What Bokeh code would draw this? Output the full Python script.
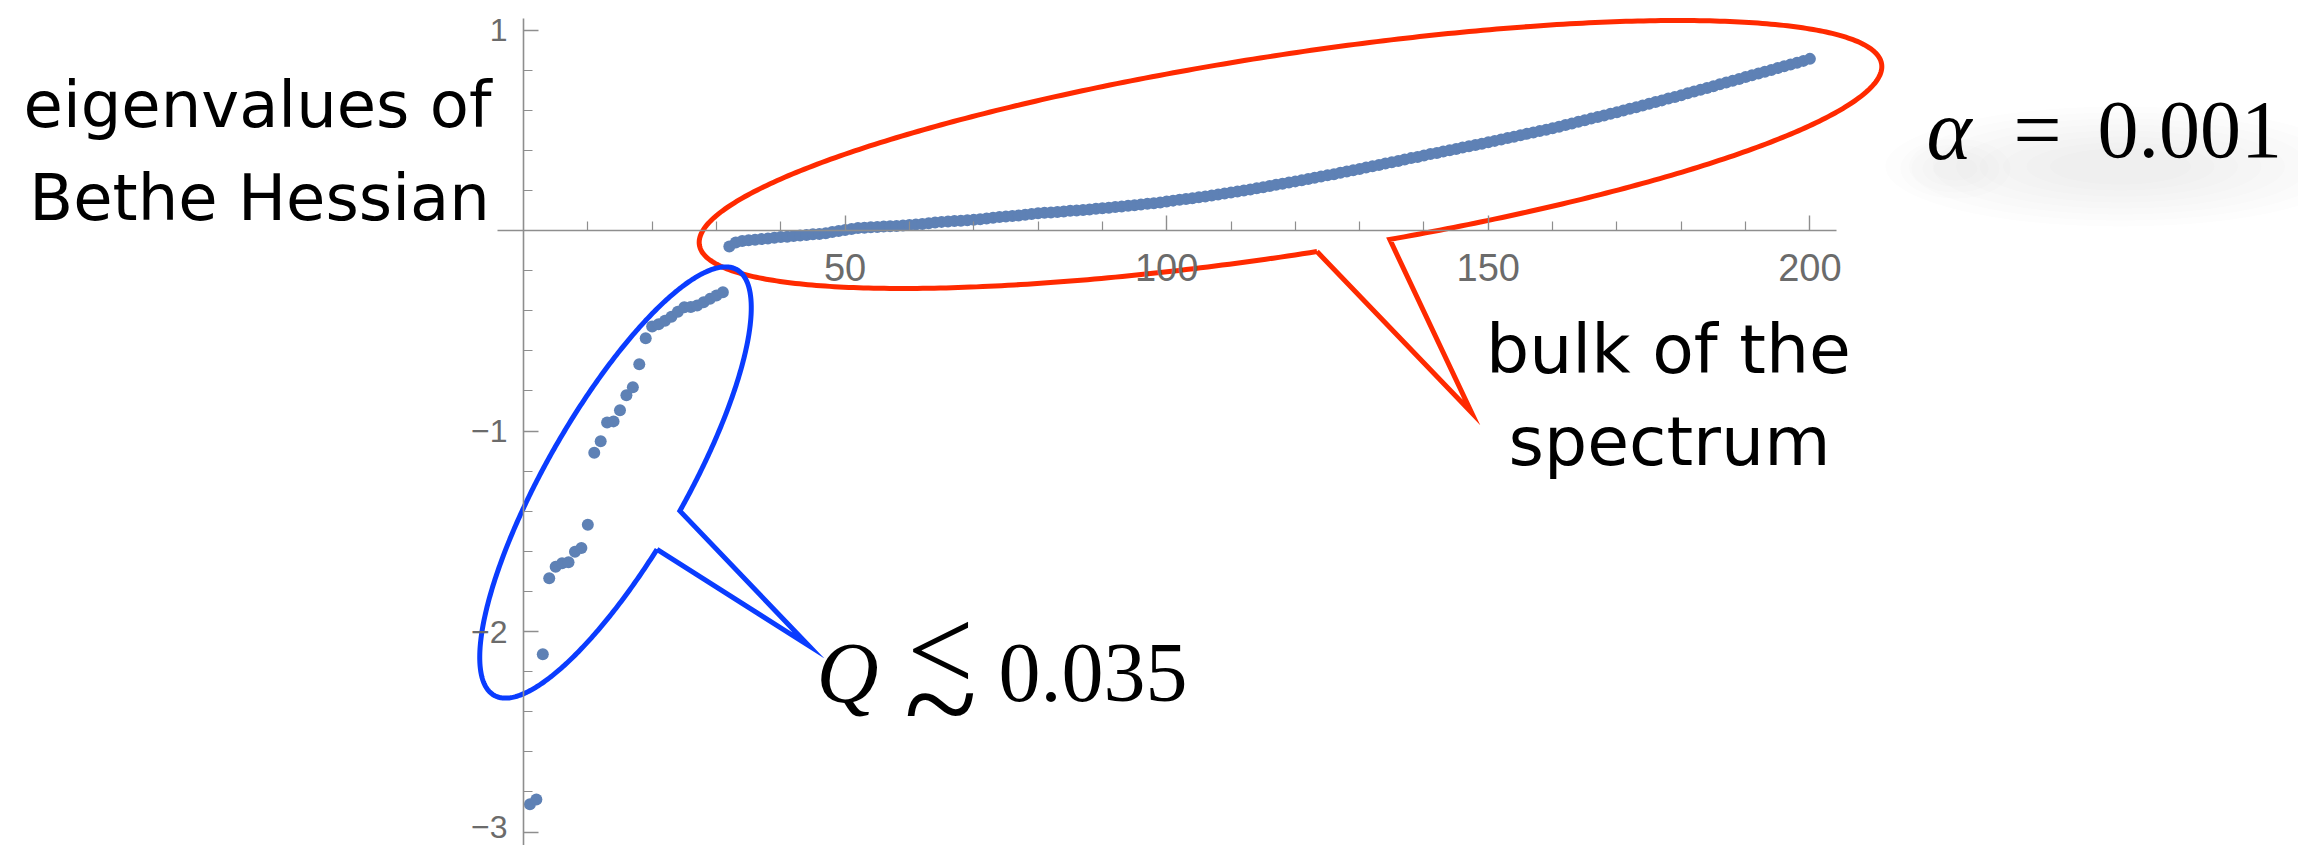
import numpy as np
from bokeh.plotting import figure
from bokeh.models import Range1d, LinearAxis, FixedTicker, CustomJSTickFormatter
from bokeh.core.properties import value
from bokeh.embed import file_html
from bokeh.resources import INLINE

# ---------------- data: sorted eigenvalues of the Bethe Hessian ----------------
INDEX = list(range(1, 201))
EIGENVALUES = [
    # isolated negative eigenvalues (1..31)
    -2.862, -2.838, -2.114, -1.734, -1.677, -1.660, -1.655, -1.602, -1.583, -1.468,
    -1.108, -1.051, -0.958, -0.952, -0.897, -0.822, -0.782, -0.667, -0.537, -0.479,
    -0.467, -0.450, -0.430, -0.405, -0.383, -0.381, -0.374, -0.358, -0.341, -0.324,
    -0.308,
    # bulk (32..200)
    -0.080, -0.060, -0.052, -0.049, -0.046, -0.043, -0.040, -0.036, -0.033,
    -0.031, -0.028, -0.025, -0.022, -0.019, -0.017, -0.014, -0.008, -0.003, 0.003,
    0.008, 0.012, 0.014, 0.016, 0.018, 0.020, 0.021, 0.023, 0.025, 0.028,
    0.030, 0.033, 0.036, 0.040, 0.043, 0.045, 0.047, 0.049, 0.051, 0.053,
    0.056, 0.060, 0.064, 0.067, 0.070, 0.072, 0.075, 0.078, 0.082, 0.086,
    0.088, 0.090, 0.092, 0.095, 0.098, 0.100, 0.102, 0.105, 0.108, 0.111,
    0.114, 0.117, 0.120, 0.123, 0.126, 0.130, 0.133, 0.136, 0.140, 0.145,
    0.149, 0.153, 0.157, 0.161, 0.166, 0.170, 0.175, 0.180, 0.185, 0.190,
    0.195, 0.200, 0.205, 0.211, 0.216, 0.222, 0.228, 0.233, 0.239, 0.245,
    0.251, 0.257, 0.263, 0.269, 0.275, 0.281, 0.288, 0.294, 0.301, 0.307,
    0.314, 0.321, 0.327, 0.334, 0.340, 0.347, 0.354, 0.361, 0.367, 0.374,
    0.381, 0.387, 0.394, 0.400, 0.407, 0.414, 0.420, 0.427, 0.433, 0.440,
    0.447, 0.454, 0.461, 0.468, 0.475, 0.482, 0.489, 0.496, 0.503, 0.510,
    0.518, 0.526, 0.534, 0.542, 0.550, 0.558, 0.566, 0.574, 0.582, 0.590,
    0.598, 0.607, 0.615, 0.624, 0.632, 0.641, 0.649, 0.658, 0.666, 0.675,
    0.684, 0.693, 0.702, 0.711, 0.720, 0.729, 0.738, 0.747, 0.756, 0.765,
    0.774, 0.783, 0.792, 0.801, 0.810, 0.819, 0.828, 0.837, 0.846, 0.856,
]

X_MAJOR = [50, 100, 150, 200]
X_MINOR = [t for t in range(10, 201, 10) if t not in X_MAJOR]
Y_MAJOR = [-3, -2, -1, 1]
Y_MINOR = [round(-3 + 0.2 * k, 1) for k in range(21) if round(-3 + 0.2 * k, 1) not in (-3, -2, -1, 0, 1)]

# ---------------- canvas / frame mapping ----------------
W, H = 2298, 845
X0_PX, X_SCALE = 523.0, 6.432     # canvas px of x=0, px per x unit
Y0_PX, Y_SCALE = 230.0, 200.5     # canvas px (from top) of y=0, px per y unit


def px_to_x(px):
    return (np.asarray(px, dtype=float) - X0_PX) / X_SCALE


def py_to_y(py):
    return (Y0_PX - np.asarray(py, dtype=float)) / Y_SCALE


p = figure(width=W, height=H, output_backend="svg", toolbar_location=None,
           x_axis_location=None, y_axis_location=None,
           x_range=Range1d(float(px_to_x(0)), float(px_to_x(W))),
           y_range=Range1d(float(py_to_y(H)), float(py_to_y(0))),
           min_border=0, outline_line_color=None, background_fill_color="white")
p.xgrid.grid_line_color = None
p.ygrid.grid_line_color = None

AXIS_GREY = "#8e8e8e"
LABEL_GREY = "#6b6b6b"
# minus sign for negative ticks; the lowest tick label is set separately, clear of the bottom edge
minus_fmt = CustomJSTickFormatter(
    code="if (tick <= -3) { return ''; } return tick < 0 ? '\u2212' + Math.abs(tick) : String(tick);")


def style_axis(ax, font_px):
    ax.axis_line_color = AXIS_GREY
    ax.axis_line_width = 1.6
    ax.major_tick_line_color = AXIS_GREY
    ax.major_tick_line_width = 1.4
    ax.minor_tick_line_color = AXIS_GREY
    ax.minor_tick_line_width = 1.2
    ax.major_tick_in = 15
    ax.major_tick_out = 0
    ax.minor_tick_in = 9
    ax.minor_tick_out = 0
    ax.major_label_text_font = "Liberation Sans"
    ax.major_label_text_font_size = f"{font_px}px"
    ax.major_label_text_color = LABEL_GREY


xaxis = LinearAxis(fixed_location=0,
                   bounds=(float(px_to_x(497)), float(px_to_x(1836))),
                   ticker=FixedTicker(ticks=X_MAJOR, minor_ticks=X_MINOR),
                   formatter=minus_fmt)
style_axis(xaxis, 38)
xaxis.major_label_standoff = 23
p.add_layout(xaxis, "below")

yaxis = LinearAxis(fixed_location=0,
                   bounds=(float(py_to_y(H)), float(py_to_y(18))),
                   ticker=FixedTicker(ticks=Y_MAJOR, minor_ticks=Y_MINOR),
                   formatter=minus_fmt)
style_axis(yaxis, 32)
yaxis.major_label_standoff = 16
p.add_layout(yaxis, "left")

# ---------------- eigenvalue points ----------------
p.scatter(INDEX, EIGENVALUES, size=12, fill_color="#5E81B5", line_color=None)


# ---------------- speech-bubble callouts (drawn in canvas pixels) ----------------
def callout(cx, cy, a, b, phi_deg, t_start, t_end, tip):
    phi = np.radians(phi_deg)
    ux, uy = np.cos(phi), -np.sin(phi)
    vx, vy = np.sin(phi), np.cos(phi)
    t = np.radians(np.linspace(t_start, t_end, 500))
    px = cx + a * np.cos(t) * ux + b * np.sin(t) * vx
    py = cy + a * np.cos(t) * uy + b * np.sin(t) * vy
    px = np.concatenate([px, [tip[0], px[0]]])
    py = np.concatenate([py, [tip[1], py[0]]])
    return px_to_x(px), py_to_y(py)


RED = "#ff2a00"
BLUE = "#0a3cff"

rx, ry = callout(1290, 154, 598, 100, 8.7, 88.9, 360 + 81.8, (1471, 412))
p.line(rx, ry, line_color=RED, line_width=5, line_join="miter")

bx, by = callout(615, 482, 245, 70, 60.3, 98.8, 360 + 88.3, (808, 645))
p.line(bx, by, line_color=BLUE, line_width=5, line_join="miter")

# ---------------- soft shadow under the alpha label ----------------
for k in range(8):
    f = 1.0 - k * 0.1
    p.ellipse(x=[float(px_to_x(2120))], y=[float(py_to_y(166))],
              width=470 * f / X_SCALE, height=120 * f / Y_SCALE,
              fill_color="#7a7a7a", fill_alpha=0.013, line_color=None)
for k in range(4):
    f = 1.0 - k * 0.2
    p.ellipse(x=[float(px_to_x(1955))], y=[float(py_to_y(168))],
              width=110 * f / X_SCALE, height=60 * f / Y_SCALE,
              fill_color="#7a7a7a", fill_alpha=0.013, line_color=None)


# ---------------- text ----------------
def label(px, py, txt, font, size, align="left", style="normal", color="black", lift=26):
    # lift: px raised so that the glyph baseline lands on row py
    p.text(x=[float(px_to_x(px))], y=[float(py_to_y(py - lift))], text=[txt],
           text_font=value(font), text_font_size=f"{size}px", text_font_style=style,
           text_align=align, text_baseline="alphabetic", text_color=color)


label(257, 130, "eigenvalues of", "DejaVu Sans", 64, align="center")
label(259, 223, "Bethe Hessian", "DejaVu Sans", 64, align="center")
label(1668, 375, "bulk of the", "DejaVu Sans", 68, align="center")
label(1669, 467, "spectrum", "DejaVu Sans", 68, align="center")

label(1926, 155, "\u03b1", "Liberation Serif", 86, style="italic")
label(2037, 155, "=", "Liberation Serif", 86, align="center")
label(2097, 155, "0.001", "Liberation Serif", 82)

# Q \lesssim 0.035 : the relation is built from a "<" stacked over a "~"
label(816, 698, "Q", "Liberation Serif", 86, style="italic")
label(940, 677, "<", "Liberation Serif", 118, align="center", lift=27)
label(940, 735, "~", "Liberation Serif", 135, align="center", lift=32)
label(998, 698, "0.035", "Liberation Serif", 84)

# lowest y tick label, nudged up to stay inside the canvas
label(507, 837, "\u22123", "Liberation Sans", 32, align="right", color=LABEL_GREY, lift=11)

open("out.html", "w").write(file_html(p, INLINE))
